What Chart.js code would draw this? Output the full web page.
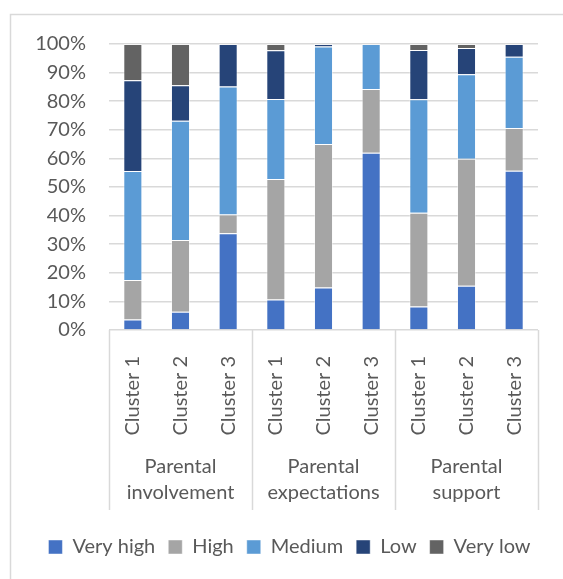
<!doctype html>
<html lang="en">
  <head>
    <meta charset="utf-8" />
    <title>Parental profiles by cluster</title>
    <style>
      html, body { margin: 0; padding: 0; background: #fff; }
      canvas { display: block; }
    </style>
  </head>
  <body>
    <canvas id="myChart" width="563" height="579"></canvas>
    <script src="https://cdn.jsdelivr.net/npm/chart.js/dist/chart.umd.min.js"></script>
    <script>
      const clusters = ["Cluster 1", "Cluster 2", "Cluster 3", "Cluster 1", "Cluster 2", "Cluster 3", "Cluster 1", "Cluster 2", "Cluster 3"];
      const groups = [["Parental", "involvement"], ["Parental", "expectations"], ["Parental", "support"]];

      // share of each answer level, in %
      const veryHigh = [3.7, 6.4, 33.8, 10.7, 14.9, 62.0, 8.2, 15.5, 55.7];
      const high = [13.8, 25.1, 6.6, 42.1, 50.1, 22.3, 32.8, 44.4, 14.9];
      const medium = [38.1, 41.7, 44.7, 28.0, 34.1, 15.7, 39.7, 29.5, 24.9];
      const low = [31.7, 12.4, 14.9, 17.0, 0.9, 0, 17.2, 9.2, 4.5];
      const veryLow = [12.7, 14.4, 0, 2.2, 0, 0, 2.1, 1.4, 0];

      const textColor = "#595959";
      const lineColor = "#D9D9D9";
      const fontFamily = "Lato, 'Open Sans', sans-serif";

      function series(label, data, color) {
        return {
          label,
          data,
          backgroundColor: color,
          borderColor: "rgba(255,255,255,0.45)",
          borderWidth: 1,
          categoryPercentage: 1,
          barPercentage: 0.4,
        };
      }

      // frame, group separators and group names under the cluster labels
      const groupAxis = {
        id: "groupAxis",
        afterDraw(chart) {
          const { ctx, chartArea: { bottom }, scales: { x } } = chart;
          const step = (x.right - x.left) / clusters.length;
          ctx.save();
          ctx.strokeStyle = lineColor;
          ctx.lineWidth = 1.5;

          ctx.beginPath();
          ctx.moveTo(10.5, 579);
          ctx.lineTo(10.5, 14.5);
          ctx.lineTo(563, 14.5);
          ctx.stroke();

          for (let g = 0; g <= groups.length; g++) {
            const px = Math.round(x.left + g * 3 * step) + 0.5;
            ctx.beginPath();
            ctx.moveTo(px, bottom);
            ctx.lineTo(px, 510);
            ctx.stroke();
          }

          ctx.fillStyle = textColor;
          ctx.font = "20px " + fontFamily;
          ctx.textAlign = "center";
          ctx.textBaseline = "middle";
          groups.forEach((lines, g) => {
            const cx = x.getPixelForValue(g * 3 + 1);
            lines.forEach((t, i) => ctx.fillText(t, cx, 467 + i * 26));
          });
          ctx.restore();
        },
      };

      const config = {
        type: "bar",
        data: {
          labels: clusters,
          datasets: [
            series("Very high", veryHigh, "#4472C4"),
            series("High", high, "#A5A5A5"),
            series("Medium", medium, "#5B9BD5"),
            series("Low", low, "#264478"),
            series("Very low", veryLow, "#636363"),
          ],
        },
        options: {
          responsive: false,
          animation: false,
          layout: { padding: { left: 16, right: 0, top: 44, bottom: 12 } },
          scales: {
            x: {
              stacked: true,
              grid: { display: false },
              border: { display: false },
              ticks: {
                color: textColor,
                font: { family: fontFamily, size: 20 },
                minRotation: 90,
                maxRotation: 90,
                padding: 18,
              },
              afterFit(scale) {
                scale.height = 194;
              },
            },
            y: {
              stacked: true,
              min: 0,
              max: 100,
              grid: { color: lineColor, lineWidth: 1.5, drawTicks: false },
              border: { display: false },
              ticks: {
                stepSize: 10,
                autoSkip: false,
                color: textColor,
                font: { family: fontFamily, size: 20 },
                padding: 23,
                callback: (v) => v + "%",
              },
              afterFit(scale) {
                scale.width = 93;
              },
            },
            // empty right margin of the plot
            yRight: {
              position: "right",
              min: 0,
              max: 100,
              grid: { display: false },
              border: { display: false },
              ticks: { display: false },
              afterFit(scale) {
                scale.width = 25;
              },
            },
          },
          plugins: {
            legend: {
              position: "bottom",
              labels: {
                color: textColor,
                font: { family: fontFamily, size: 20 },
                boxWidth: 14,
                boxHeight: 14,
                padding: 13,
              },
            },
            tooltip: { enabled: false },
          },
        },
        plugins: [groupAxis],
      };

      const myChart = new Chart(document.getElementById("myChart"), config);
    </script>
  </body>
</html>
